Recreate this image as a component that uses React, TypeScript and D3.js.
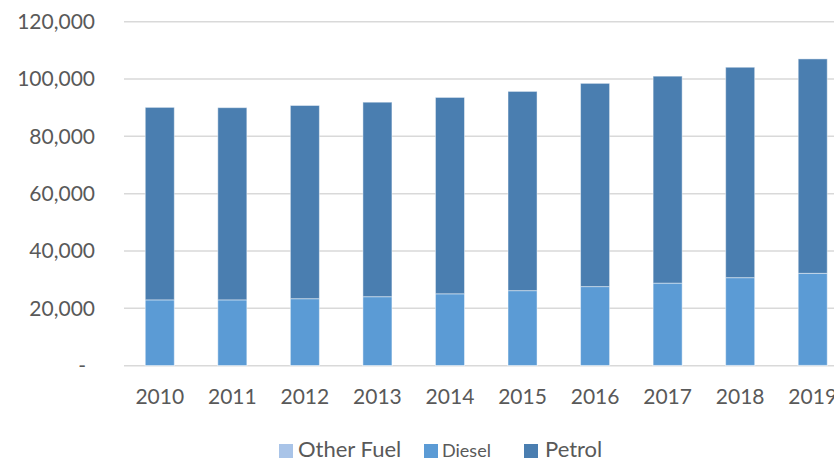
import React from "react";
import * as d3 from "d3";

const years = ["2010", "2011", "2012", "2013", "2014", "2015", "2016", "2017", "2018", "2019"];
const otherFuel = [60, 60, 70, 70, 80, 80, 90, 100, 110, 120];
const diesel = [22900, 22900, 23300, 24000, 25000, 26100, 27500, 28700, 30600, 32100];
const petrol = [67150, 67050, 67400, 67850, 68500, 69500, 70900, 72200, 73400, 74800];
const yTicks = [0, 20000, 40000, 60000, 80000, 100000, 120000];

const seriesKeys = ["otherFuel", "diesel", "petrol"];
const seriesNames = ["Other Fuel", "Diesel", "Petrol"];
const colors = ["#a9c4e8", "#5b9bd5", "#4a7eb0"];

const width = 834;
const height = 458;
const font = "Lato, 'Liberation Sans', sans-serif";
const textColor = "#595959";

export default function App() {
  const rows = years.map((y, i) => ({
    year: y,
    otherFuel: otherFuel[i],
    diesel: diesel[i],
    petrol: petrol[i],
  }));
  const stacked = d3.stack<any>().keys(seriesKeys)(rows);

  const x = d3.scaleBand().domain(years).range([123.5, 849]).paddingInner(0.6).paddingOuter(0.3);
  const y = d3.scaleLinear().domain([0, 120000]).range([365.7, 21.7]);
  const fmt = d3.format(",");

  // legend layout: square x, text x, font size
  const legend = [
    { sq: 279, tx: 298, size: 22 },
    { sq: 424, tx: 442, size: 18 },
    { sq: 524, tx: 545, size: 22 },
  ];

  return (
    <svg
      width={width}
      height={height}
      style={{ position: "absolute", left: 0, top: 0, background: "#fff" }}
      fontFamily={font}
    >
      <g>
        {yTicks.map((t) => (
          <g key={t}>
            <line x1={124} x2={width} y1={y(t)} y2={y(t)} stroke="#d9d9d9" strokeWidth={1.5} />
            <text
              x={t === 0 ? 86 : 95}
              y={y(t)}
              dy="0.35em"
              textAnchor="end"
              fontSize={21}
              fill={textColor}
            >
              {t === 0 ? "-" : fmt(t)}
            </text>
          </g>
        ))}
      </g>
      <g>
        {stacked.map((s, si) => (
          <g key={s.key} fill={colors[si]}>
            {s.map((d, i) => (
              <rect
                key={i}
                x={x(years[i])}
                y={y(d[1])}
                width={x.bandwidth()}
                height={y(d[0]) - y(d[1])}
                stroke="#ffffff"
                strokeOpacity={0.45}
                strokeWidth={1}
              />
            ))}
          </g>
        ))}
      </g>
      <g>
        {years.map((yr) => (
          <text
            key={yr}
            x={(x(yr) ?? 0) + x.bandwidth() / 2}
            y={404}
            textAnchor="middle"
            fontSize={21}
            fill={textColor}
          >
            {yr}
          </text>
        ))}
      </g>
      <g>
        {seriesNames.map((n, i) => (
          <g key={n}>
            <rect x={legend[i].sq} y={444} width={14} height={14} fill={colors[i]} />
            <text x={legend[i].tx} y={457} fontSize={legend[i].size} fill={textColor}>
              {n}
            </text>
          </g>
        ))}
      </g>
    </svg>
  );
}
